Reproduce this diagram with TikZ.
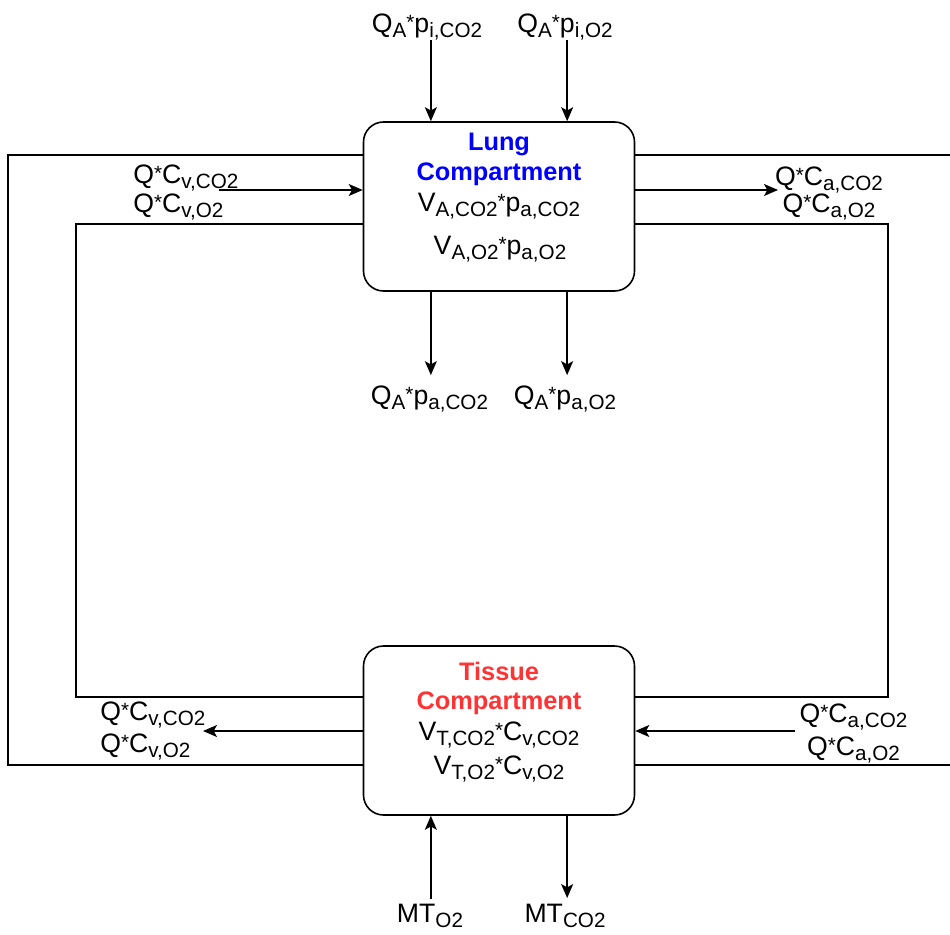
\documentclass[tikz,border=0pt]{standalone}
\usepackage{fontspec}
\setmainfont{Liberation Sans}
\usetikzlibrary{arrows.meta,calc}
\definecolor{tissuered}{HTML}{FF3333}
\newcommand{\lo}[1]{\raisebox{-4pt}{\fontsize{15.5}{16}\selectfont #1}}
\newcommand{\mul}{\raisebox{2pt}{\fontsize{15.5}{16}\selectfont *}}

\begin{document}
\begin{tikzpicture}[x=0.75pt, y=-0.75pt,
  every node/.style={font=\fontsize{20}{22}\selectfont, inner sep=0pt},
  compbox/.style={draw, line width=1.2pt, rounded corners=15pt,
    minimum width=203.25pt, minimum height=126.75pt},
  heading/.style={font=\fontsize{19}{22}\selectfont\bfseries, anchor=base},
  wire/.style={line width=1.1pt},
  flow/.style={line width=1.1pt, -{Stealth[length=10.5pt, width=9pt, inset=2.5pt]}}]
  \useasboundingbox (0,0) rectangle (950,935);

  % Compartments
  \node[compbox] (lung) at (499,206.5) {};
  \node[compbox] (tissue) at (499,730.5) {};

  \node[heading, text=blue] (lungname) at (499,150) {Lung};
  \node[heading, text=blue] (lungword) at (499,180) {Compartment};
  \node[anchor=base] (lungvco) at (499,211) {V\lo{A,CO2}\mul p\lo{a,CO2}};
  \node[anchor=base] (lungvo) at (500,254) {V\lo{A,O2}\mul p\lo{a,O2}};

  \node[heading, text=tissuered] (tissuename) at (499,680) {Tissue};
  \node[heading, text=tissuered] (tissueword) at (499,709) {Compartment};
  \node[anchor=base] (tissuevco) at (499,740) {V\lo{T,CO2}\mul C\lo{v,CO2}};
  \node[anchor=base] (tissuevo) at (499,774) {V\lo{T,O2}\mul C\lo{v,O2}};

  % Ports on the box edges
  \coordinate (ltopA) at ($(lung.north west)!.25!(lung.north east)$);
  \coordinate (ltopB) at ($(lung.north west)!.75!(lung.north east)$);
  \coordinate (lbotA) at ($(lung.south west)!.25!(lung.south east)$);
  \coordinate (lbotB) at ($(lung.south west)!.75!(lung.south east)$);
  \coordinate (tbotA) at ($(tissue.south west)!.25!(tissue.south east)$);
  \coordinate (tbotB) at ($(tissue.south west)!.75!(tissue.south east)$);

  % Ventilation in and out
  \node[anchor=base] (qico) at (427,32) {Q\lo{A}\mul p\lo{i,CO2}};
  \node[anchor=base] (qio) at (565,32) {Q\lo{A}\mul p\lo{i,O2}};
  \draw[flow] (qico.south -| ltopA) -- (ltopA);
  \draw[flow] (qio.south -| ltopB) -- (ltopB);

  \node[anchor=base] (qaco) at (429.5,404) {Q\lo{A}\mul p\lo{a,CO2}};
  \node[anchor=base] (qao) at (565,404) {Q\lo{A}\mul p\lo{a,O2}};
  \draw[flow, shorten >=7.5pt] (lbotA) -- (qaco.north -| lbotA);
  \draw[flow, shorten >=7.5pt] (lbotB) -- (qao.north -| lbotB);

  % Metabolism
  \node[anchor=base] (mto) at (430,922) {MT\lo{O2}};
  \node[anchor=base] (mtco) at (565,922) {MT\lo{CO2}};
  \draw[flow, shorten <=3.5pt] (mto.north -| tbotA) -- (tbotA);
  \draw[flow, shorten >=4pt] (tbotB) -- (mtco.north -| tbotB);

  % Blood loops
  \coordinate (c1) at (8,155);
  \coordinate (c2) at (8,765);
  \coordinate (c3) at (76,224);
  \coordinate (c4) at (76,697);
  \coordinate (c5) at (888,224);
  \coordinate (c6) at (888,697);
  \coordinate (c7) at (950,155);
  \coordinate (c8) at (950,765);
  \draw[wire] (lung.west |- c1) -- (c1) -- (c2) -- (tissue.west |- c2);
  \draw[wire] (lung.west |- c3) -- (c3) -- (c4) -- (tissue.west |- c4);
  \draw[wire] (lung.east |- c5) -- (c5) -- (c6) -- (tissue.east |- c6);
  \draw[wire] (lung.east |- c7) -- (c7);
  \draw[wire] (tissue.east |- c8) -- (c8);

  % Blood flow labels
  \node[anchor=base west] (lvco) at (133,183) {Q\mul C\lo{v,CO2}};
  \node[anchor=base west] (lvo) at (133,212) {Q\mul C\lo{v,O2}};
  \node[anchor=base] (laco) at (829,185) {Q\mul C\lo{a,CO2}};
  \node[anchor=base] (lao) at (829,212) {Q\mul C\lo{a,O2}};
  \node[anchor=base west] (tvco) at (100,720) {Q\mul C\lo{v,CO2}};
  \node[anchor=base west] (tvo) at (100,752) {Q\mul C\lo{v,O2}};
  \node[anchor=base] (taco) at (853.5,722) {Q\mul C\lo{a,CO2}};
  \node[anchor=base] (tao) at (853.5,755) {Q\mul C\lo{a,O2}};

  \coordinate (vin) at (219,190);
  \coordinate (aout) at (778,190);
  \coordinate (vout) at (203,731);
  \coordinate (ain) at (795,731);
  \draw[flow] (vin) -- (lung.west |- vin);
  \draw[flow] (lung.east |- aout) -- (aout);
  \draw[flow] (tissue.west |- vout) -- (vout);
  \draw[flow] (ain) -- (tissue.east |- ain);
\end{tikzpicture}
\end{document}
